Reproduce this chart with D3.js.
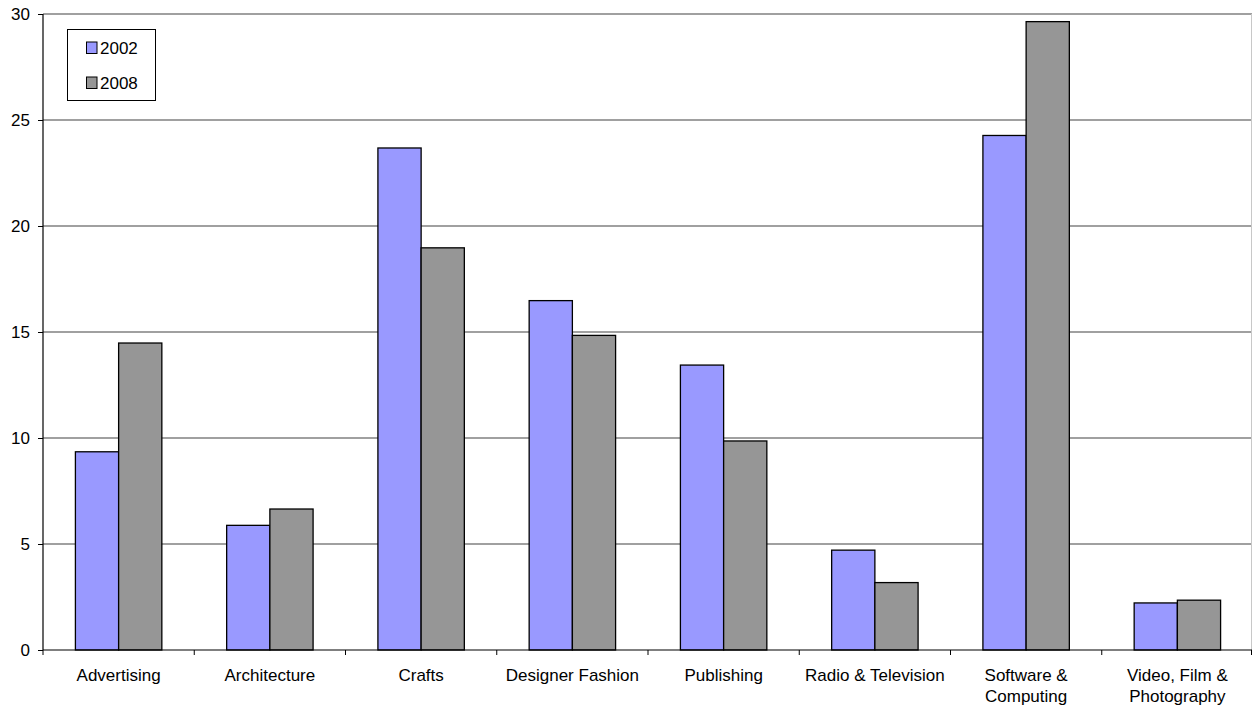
<!DOCTYPE html>
<html>
<head>
<meta charset="utf-8">
<script src="https://cdn.jsdelivr.net/npm/d3@7"></script>
<style>
  html, body { margin: 0; padding: 0; background: #fff; }
  svg { display: block; font-family: "Liberation Sans", Arial, sans-serif; }
</style>
</head>
<body>
<svg id="chart" width="1252" height="708"></svg>
<script>
// Share by creative sector, 2002 vs 2008
const categories = [
  "Advertising", "Architecture", "Crafts", "Designer Fashion",
  "Publishing", "Radio & Television", "Software & Computing", "Video, Film & Photography"
];
const categoryLines = [
  ["Advertising"], ["Architecture"], ["Crafts"], ["Designer Fashion"],
  ["Publishing"], ["Radio & Television"], ["Software &", "Computing"], ["Video, Film &", "Photography"]
];
const seriesNames = ["2002", "2008"];
const values2002 = [9.35, 5.88, 23.68, 16.48, 13.44, 4.71, 24.27, 2.22];
const values2008 = [14.48, 6.65, 18.97, 14.84, 9.86, 3.18, 29.64, 2.35];
const yTicks = [0, 5, 10, 15, 20, 25, 30];
const colors = { "2002": "#9999FF", "2008": "#969696" };

const series = { "2002": values2002, "2008": values2008 };

const svg = d3.select("#chart");
const plotLeft = 43, plotRight = 1252, plotTop = 14, plotBottom = 650;

const x = d3.scaleBand().domain(categories).range([plotLeft, plotRight + 1]).paddingInner(0).paddingOuter(0);
const xs = d3.scaleBand().domain(seriesNames).range([0, x.bandwidth()]).paddingInner(0).paddingOuter(0.75);
const y = d3.scaleLinear().domain([0, 30]).range([plotBottom, plotTop]);

// horizontal gridlines
svg.append("g")
  .selectAll("line")
  .data(yTicks.filter(t => t > 0))
  .join("line")
  .attr("x1", plotLeft).attr("x2", plotRight)
  .attr("y1", d => y(d)).attr("y2", d => y(d))
  .attr("stroke", "#808080").attr("stroke-width", 1.4);

// right edge of plot area
svg.append("line")
  .attr("x1", plotRight - 0.5).attr("x2", plotRight - 0.5)
  .attr("y1", plotTop).attr("y2", plotBottom)
  .attr("stroke", "#c8c8c8").attr("stroke-width", 1);

// bars
const groups = svg.append("g")
  .selectAll("g")
  .data(categories)
  .join("g")
  .attr("transform", d => `translate(${x(d)},0)`);

groups.selectAll("rect")
  .data((d, i) => seriesNames.map(s => ({ s, v: series[s][i] })))
  .join("rect")
  .attr("x", d => xs(d.s))
  .attr("width", xs.bandwidth())
  .attr("y", d => y(d.v))
  .attr("height", d => y(0) - y(d.v))
  .attr("fill", d => colors[d.s])
  .attr("stroke", "#000")
  .attr("stroke-width", 1.3);

// y axis
const yAxis = svg.append("g")
  .attr("transform", `translate(${plotLeft},0)`)
  .call(d3.axisLeft(y).tickValues(yTicks).tickSize(5).tickPadding(8).tickFormat(d3.format("d")));
yAxis.select(".domain").attr("stroke", "#000").attr("stroke-width", 1.2).attr("d", `M0,${plotTop}V${plotBottom}`);
yAxis.selectAll(".tick line").attr("stroke", "#000");
yAxis.selectAll(".tick text").attr("font-size", 17).attr("fill", "#000")
  .attr("font-family", "Liberation Sans, Arial, sans-serif");

// x axis
const xAxis = svg.append("g")
  .attr("transform", `translate(0,${plotBottom})`);
xAxis.append("line")
  .attr("x1", plotLeft).attr("x2", plotRight)
  .attr("y1", 0).attr("y2", 0)
  .attr("stroke", "#000").attr("stroke-width", 1.2);
xAxis.selectAll("line.tk")
  .data(categories.map(c => x(c)).concat([plotRight]))
  .join("line")
  .attr("class", "tk")
  .attr("x1", d => Math.min(d, plotRight - 0.5)).attr("x2", d => Math.min(d, plotRight - 0.5))
  .attr("y1", 0).attr("y2", 5)
  .attr("stroke", "#000");

const labels = xAxis.selectAll("text.cat")
  .data(categories)
  .join("text")
  .attr("class", "cat")
  .attr("text-anchor", "middle")
  .attr("font-size", 17)
  .attr("fill", "#000")
  .attr("x", d => x(d) + x.bandwidth() / 2)
  .attr("y", 31);
labels.each(function(d, i) {
  const t = d3.select(this);
  categoryLines[i].forEach((line, j) => {
    t.append("tspan")
      .attr("x", x(d) + x.bandwidth() / 2)
      .attr("dy", j === 0 ? 0 : 21)
      .text(line);
  });
});

// legend
const legend = svg.append("g").attr("transform", "translate(67.5,29.5)");
legend.append("rect")
  .attr("width", 88).attr("height", 71)
  .attr("fill", "#fff").attr("stroke", "#000").attr("stroke-width", 1);
seriesNames.forEach((s, i) => {
  const row = legend.append("g").attr("transform", `translate(19,${12.5 + i * 35})`);
  row.append("rect")
    .attr("width", 10.5).attr("height", 11.5)
    .attr("fill", colors[s]).attr("stroke", "#000").attr("stroke-width", 1);
  row.append("text")
    .attr("x", 13.5).attr("y", 6)
    .attr("dy", "0.35em")
    .attr("font-size", 17)
    .attr("fill", "#000")
    .text(s);
});
</script>
</body>
</html>
